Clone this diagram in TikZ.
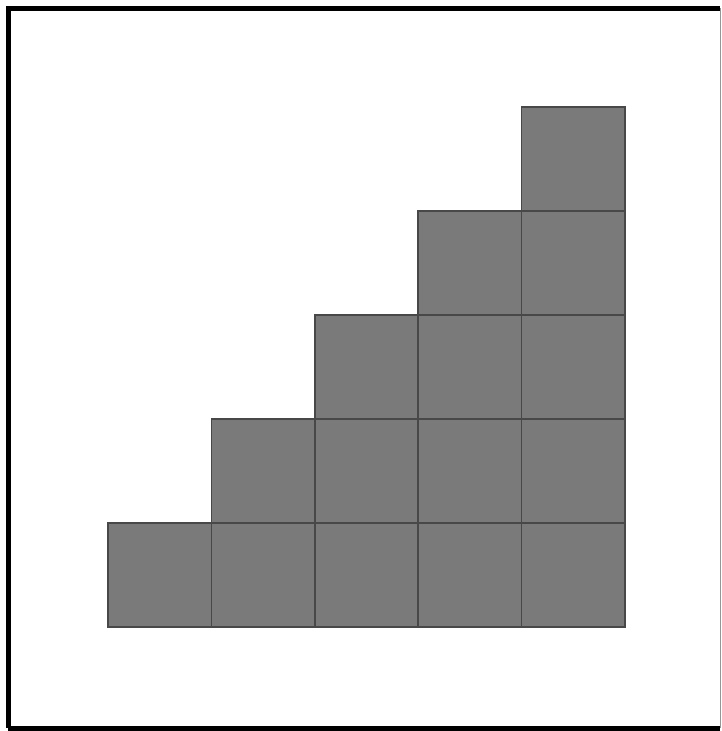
\documentclass[tikz,border=0pt]{standalone}
\usepackage{xcolor}
\definecolor{sqfill}{RGB}{122,122,122}
\definecolor{sqline}{RGB}{72,72,72}
\definecolor{framegray}{RGB}{150,150,150}
\usetikzlibrary{positioning}

\begin{document}
\begin{tikzpicture}[x=1pt, y=-1pt,
        cell/.style={rectangle, draw=sqline, fill=sqfill, line width=1.6pt,
                     minimum width=103.4pt, minimum height=104pt, inner sep=0pt, outer sep=0pt},
        frameline/.style={line width=5pt, black}
      ]
        \useasboundingbox (0,0) rectangle (722,731);

        % Frame
        \coordinate (tl) at (8,8);
        \coordinate (tr) at (720,8);
        \coordinate (bl) at (8,728);
        \coordinate (br) at (720,728);
        \draw[frameline] (bl) -- (tl) -- (tr);
        \draw[frameline] (bl) -- (br);
        \draw[framegray, line width=1pt] (tr) -- (br);

        % Staircase: column c holds c+1 cells
        \foreach \c in {0,...,4} {
          \foreach \r in {0,...,\c} {
            \node[cell] (cell-\c-\r) at ({108+103.4*\c+51.7}, {627-104*\r-52}) {};
          }
        }
      \end{tikzpicture}
\end{document}
